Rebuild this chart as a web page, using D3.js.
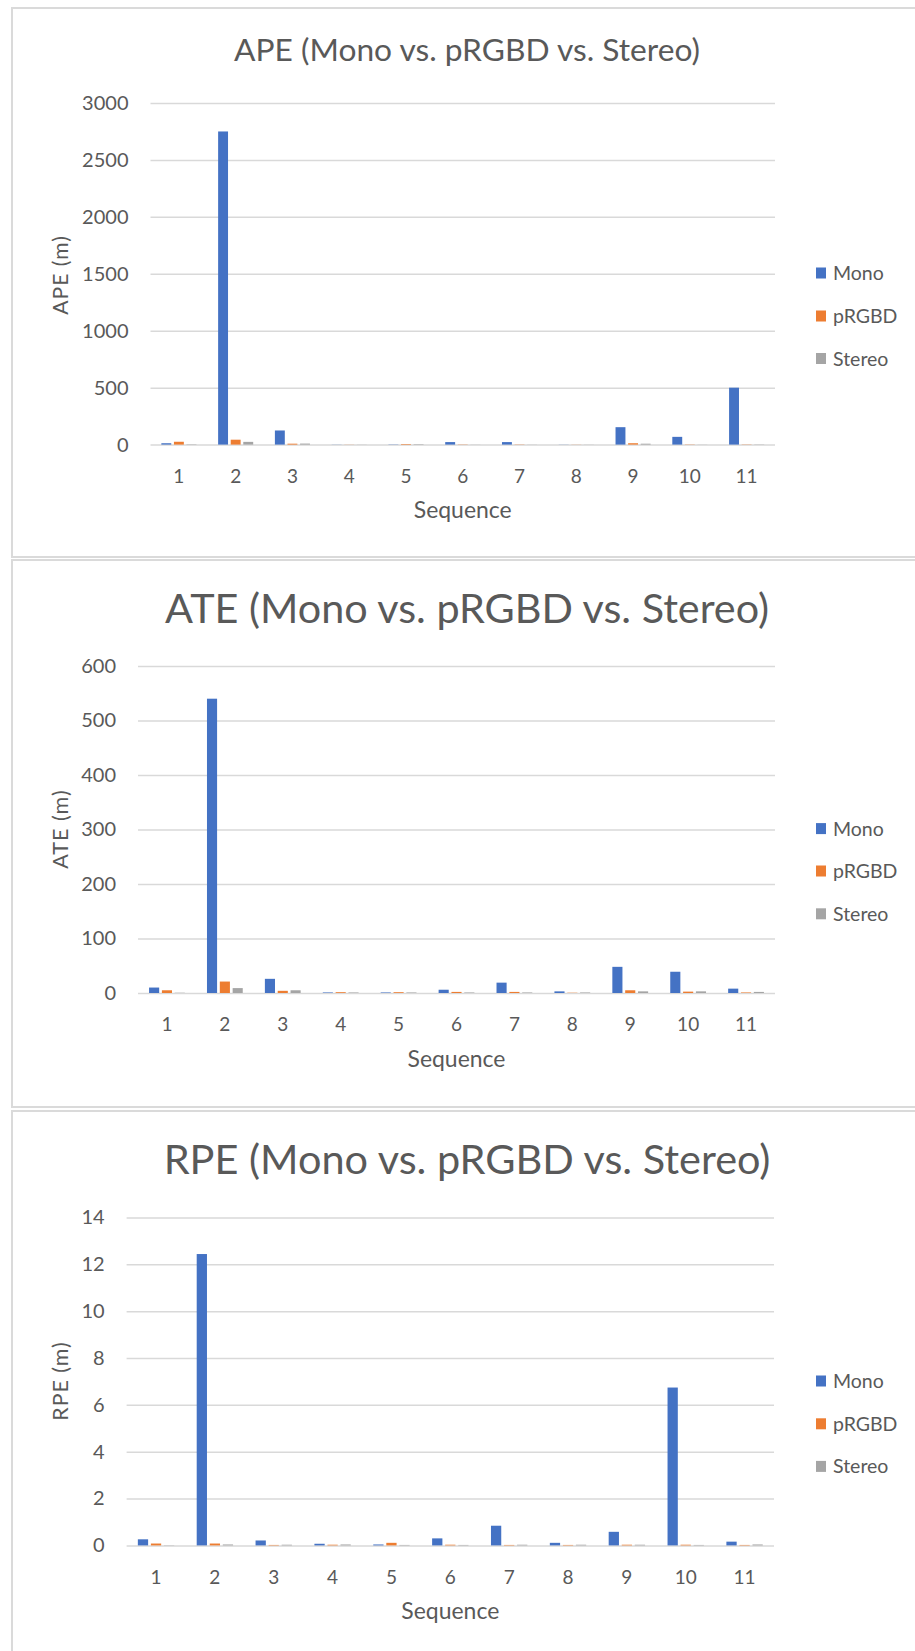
<!DOCTYPE html>
<html>
<head>
<meta charset="utf-8">
<script src="https://cdn.jsdelivr.net/npm/d3@7"></script>
<style>
  html, body { margin: 0; padding: 0; background: #ffffff; }
  svg { display: block; }
  text { font-family: Lato, "Open Sans", "Liberation Sans", sans-serif; fill: #595959; }
</style>
</head>
<body>
<svg id="chart" width="915" height="1651"></svg>
<script>
// ---- data -------------------------------------------------------------
const sequences = ["1", "2", "3", "4", "5", "6", "7", "8", "9", "10", "11"];
const seriesNames = ["Mono", "pRGBD", "Stereo"];
const seriesColors = ["#4472C4", "#ED7D31", "#A5A5A5"];

// Absolute pose error (m)
const apeMono   = [12, 2750, 124, 1, 2, 22, 22, 1, 153, 68, 500];
const apePRGBD  = [25, 43, 8, 1, 5, 2, 2, 1, 12, 2, 2];
const apeStereo = [3, 24, 9, 1, 4, 1, 1, 1, 8, 1, 2];
const apeTicks  = [0, 500, 1000, 1500, 2000, 2500, 3000];

// Absolute trajectory error (m)
const ateMono   = [10, 540, 26, 1, 1, 6, 19, 3, 48, 39, 8];
const atePRGBD  = [5, 21, 4, 1.5, 1.5, 2, 2, 0.5, 5, 2.5, 1];
const ateStereo = [0.5, 9, 5, 1, 1, 1, 1, 1, 3, 3, 2];
const ateTicks  = [0, 100, 200, 300, 400, 500, 600];

// Relative pose error (m)
const rpeMono   = [0.26, 12.44, 0.21, 0.07, 0.04, 0.30, 0.84, 0.11, 0.58, 6.74, 0.16];
const rpePRGBD  = [0.08, 0.08, 0.02, 0.03, 0.11, 0.03, 0.02, 0.02, 0.03, 0.03, 0.02];
const rpeStereo = [0.01, 0.04, 0.03, 0.04, 0.02, 0.02, 0.03, 0.03, 0.03, 0.02, 0.04];
const rpeTicks  = [0, 2, 4, 6, 8, 10, 12, 14];

// ---- layout -----------------------------------------------------------
const panels = [
  { title: "APE (Mono vs. pRGBD vs. Stereo)", yTitle: "APE (m)",
    values: [apeMono, apePRGBD, apeStereo], ticks: apeTicks,
    boxTop: 8, boxBottom: 557, plotL: 150.5, plotR: 775, yTop: 103, yZero: 444.6,
    titleY: 61, titleW: 466, legendY: [273, 316, 358.5], yTitleY: 275 },
  { title: "ATE (Mono vs. pRGBD vs. Stereo)", yTitle: "ATE (m)",
    values: [ateMono, atePRGBD, ateStereo], ticks: ateTicks,
    boxTop: 560, boxBottom: 1107, plotL: 138, plotR: 775, yTop: 666, yZero: 993,
    titleY: 623, titleW: 604, legendY: [828.6, 871, 913.8], yTitleY: 829 },
  { title: "RPE (Mono vs. pRGBD vs. Stereo)", yTitle: "RPE (m)",
    values: [rpeMono, rpePRGBD, rpeStereo], ticks: rpeTicks,
    boxTop: 1111, boxBottom: 1700, plotL: 126.6, plotR: 774, yTop: 1217.5, yZero: 1545.4,
    titleY: 1174, titleW: 607, legendY: [1381, 1423.8, 1466.4], yTitleY: 1381 }
];

const svg = d3.select("#chart");
const gridColor = "#d9d9d9";

// scale a text's font size so it spans the given width
function fitWidth(sel, width) {
  const base = parseFloat(sel.attr("font-size"));
  const len = sel.node().getComputedTextLength();
  if (len > 0) sel.attr("font-size", base * width / len);
}

panels.forEach(p => {
  const g = svg.append("g");

  // chart area frame
  g.append("rect")
    .attr("x", 12).attr("y", p.boxTop)
    .attr("width", 940).attr("height", p.boxBottom - p.boxTop)
    .attr("fill", "#ffffff")
    .attr("stroke", "#dadada").attr("stroke-width", 2);

  const yMax = d3.max(p.ticks);
  const y = d3.scaleLinear().domain([0, yMax]).range([p.yZero, p.yTop]);
  const x0 = d3.scaleBand().domain(sequences).range([p.plotL, p.plotR]).padding(0);
  const bw = x0.bandwidth();
  // clustered columns: gap width 219%, overlap -27%
  const barW = bw / (3 + 2 * 0.27 + 2.19);
  const clusterW = barW * (3 + 2 * 0.27);
  const x1 = d3.scaleBand().domain(seriesNames)
    .range([(bw - clusterW) / 2, (bw + clusterW) / 2])
    .paddingInner(0.27 / 1.27).paddingOuter(0);

  // value axis with gridlines
  const yAxis = g.append("g")
    .attr("transform", `translate(${p.plotL},0)`)
    .call(d3.axisLeft(y).tickValues(p.ticks).tickSize(-(p.plotR - p.plotL)).tickPadding(22).tickFormat(d3.format("d")));
  yAxis.select(".domain").remove();
  yAxis.selectAll(".tick line").attr("stroke", gridColor).attr("stroke-width", 1.5);
  yAxis.selectAll(".tick text")
    .attr("font-size", 20).attr("fill", "#595959");
  yAxis.attr("font-family", null);

  // category axis
  const xAxis = g.append("g")
    .attr("transform", `translate(0,${p.yZero})`)
    .call(d3.axisBottom(x0).tickSize(0).tickPadding(25));
  xAxis.select(".domain").remove();
  xAxis.selectAll(".tick text")
    .attr("font-size", 19).attr("fill", "#595959");
  xAxis.attr("font-family", null);

  // bars
  const groups = g.append("g").selectAll("g")
    .data(sequences)
    .join("g")
    .attr("transform", d => `translate(${x0(d)},0)`);
  groups.selectAll("rect")
    .data((d, i) => seriesNames.map((s, k) => ({ s, k, v: p.values[k][i] })))
    .join("rect")
    .attr("x", d => x1(d.s))
    .attr("width", x1.bandwidth())
    .attr("y", d => y(d.v))
    .attr("height", d => y(0) - y(d.v))
    .attr("fill", d => seriesColors[d.k]);

  // chart title
  const t = g.append("text")
    .attr("x", 467).attr("y", p.titleY)
    .attr("text-anchor", "middle")
    .attr("font-size", 30)
    .text(p.title);
  fitWidth(t, p.titleW);

  // axis titles
  const yt = g.append("text")
    .attr("transform", `translate(68,${p.yTitleY}) rotate(-90)`)
    .attr("text-anchor", "middle")
    .attr("font-size", 20)
    .attr("letter-spacing", 1)
    .text(p.yTitle);
  fitWidth(yt, 80);

  const xt = g.append("text")
    .attr("x", (p.plotL + p.plotR) / 2).attr("y", p.yZero + 73.5)
    .attr("text-anchor", "middle")
    .attr("font-size", 21)
    .text("Sequence");
  fitWidth(xt, 98);

  // legend
  const leg = g.append("g").selectAll("g")
    .data(seriesNames)
    .join("g")
    .attr("transform", (d, i) => `translate(816,${p.legendY[i]})`);
  leg.append("rect")
    .attr("x", 0).attr("y", -5.5).attr("width", 10).attr("height", 11)
    .attr("fill", (d, i) => seriesColors[i]);
  leg.append("text")
    .attr("x", 17).attr("dy", "0.36em")
    .attr("font-size", 19.5)
    .text(d => d);
});
</script>
</body>
</html>
